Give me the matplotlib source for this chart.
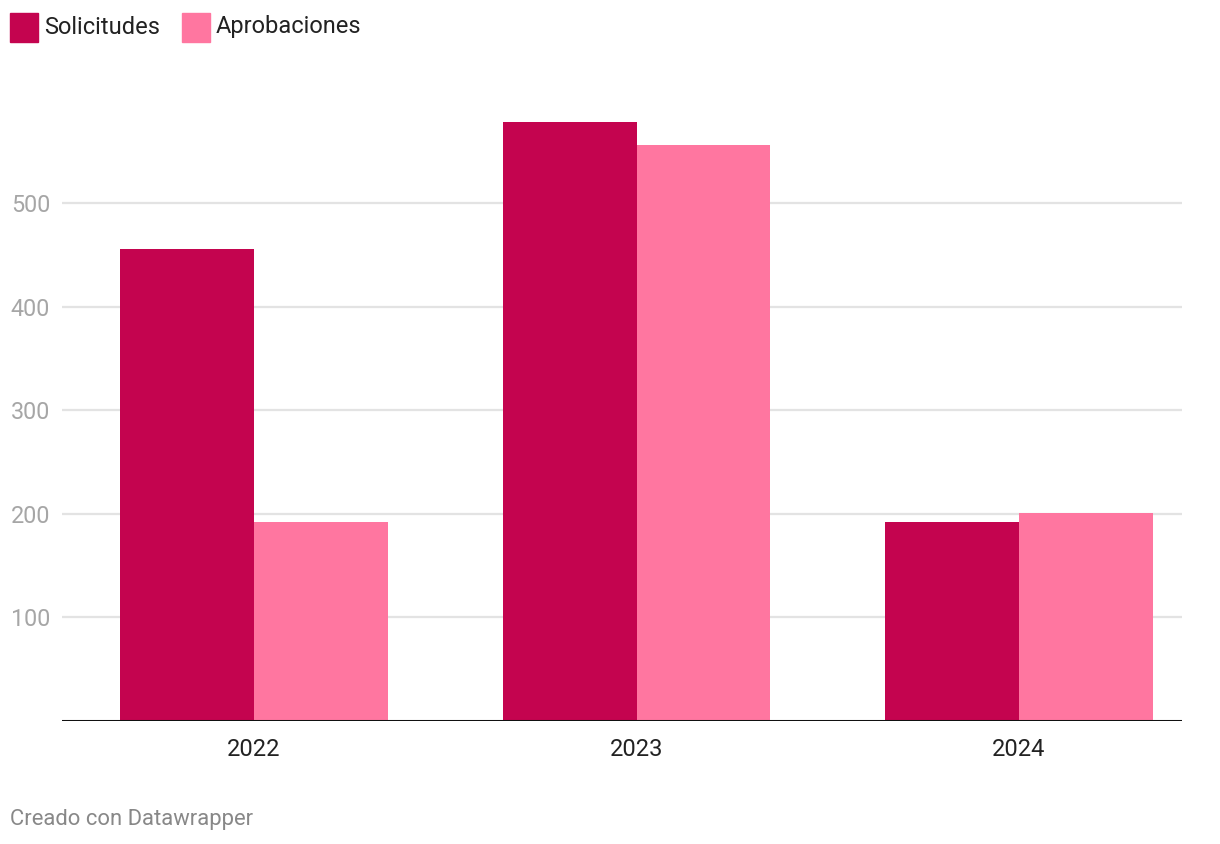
import matplotlib
matplotlib.use("Agg")
import matplotlib.pyplot as plt
from matplotlib.patches import Rectangle
import numpy as np

years = ["2022", "2023", "2024"]
series_names = ["Solicitudes", "Aprobaciones"]
solicitudes = [456, 578, 192]
aprobaciones = [192, 556, 201]
colors = ["#c4044f", "#ff76a0"]
yticks = [100, 200, 300, 400, 500]

plt.rcParams['font.family'] = ['Roboto', 'DejaVu Sans']

W, H = 1220, 844
fig = plt.figure(figsize=(W / 100, H / 100), dpi=100)

px_per_unit = 1.036
ax_left, ax_right = 62, 1182
ax_bottom = 721
ymax = 600
ax_top = ax_bottom - ymax * px_per_unit
ax = fig.add_axes([ax_left / W, 1 - ax_bottom / H, (ax_right - ax_left) / W, (ax_bottom - ax_top) / H])

x = np.arange(len(years))
bw = 0.35
ax.bar(x - bw / 2, solicitudes, bw, color=colors[0], zorder=3)
ax.bar(x + bw / 2, aprobaciones, bw, color=colors[1], zorder=3)

ax.set_xlim(-0.502, 2.426)
ax.set_ylim(0, ymax)

for t in yticks:
    ax.axhline(t, color="#e3e3e3", lw=1.6, zorder=1)
ax.axhline(0, color="#111111", lw=2.2, zorder=4)

ax.set_yticks(yticks)
ax.set_yticklabels([str(t) for t in yticks], fontsize=16.8, color="#a6a6a6")
ax.tick_params(axis="y", length=0, pad=8.5)
ax.set_xticks(x)
ax.set_xticklabels(years, fontsize=17, color="#222222")
ax.tick_params(axis="x", length=0, pad=12)
for s in ax.spines.values():
    s.set_visible(False)

# legend
leg_x = [10, 182]
for i, name in enumerate(series_names):
    fig.patches.append(Rectangle((leg_x[i] / W, 1 - 42 / H), 28 / W, 29 / H,
                                 transform=fig.transFigure, color=colors[i]))
    fig.text((leg_x[i] + 34) / W, 1 - 27 / H, name, fontsize=17, color="#222222",
             va="center", ha="left")

fig.text(10 / W, 1 - 819 / H, "Creado con Datawrapper", fontsize=15.8,
         color="#888888", va="center", ha="left")

fig.savefig("out.png", dpi=100, facecolor="white")
